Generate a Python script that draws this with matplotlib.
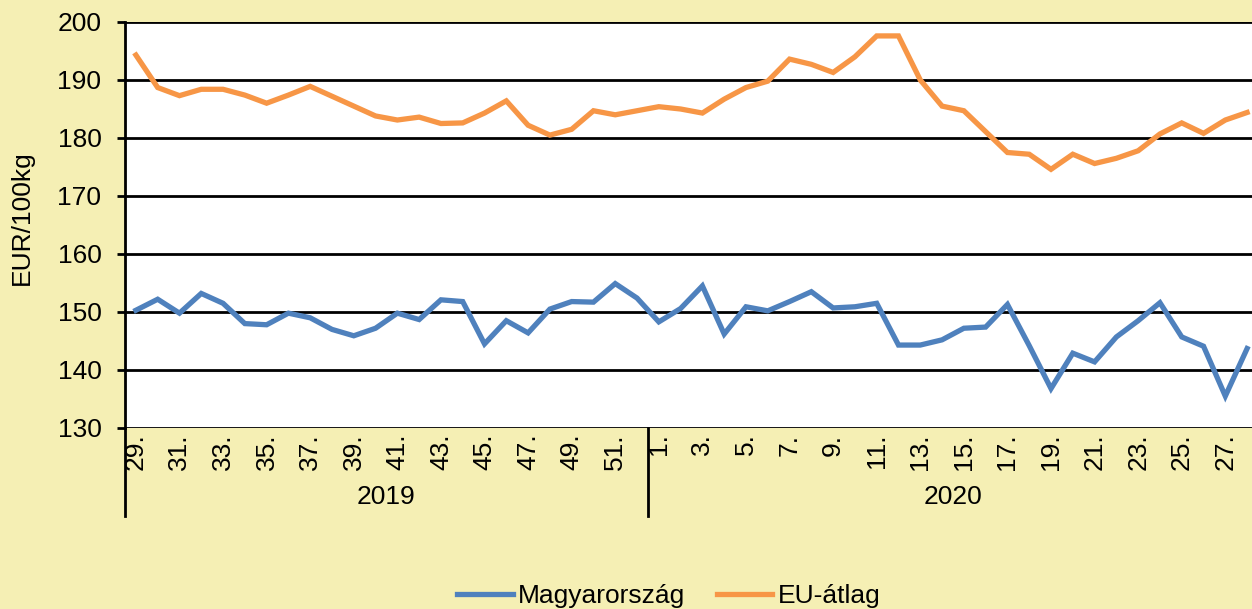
import matplotlib
matplotlib.use("Agg")
import matplotlib.pyplot as plt
import matplotlib.transforms as mtransforms
from matplotlib.lines import Line2D

plt.rcParams['font.family'] = ['Liberation Sans', 'DejaVu Sans']

# weeks: 2019 w29-w52, 2020 w1-w28
weeks_2019 = list(range(29, 53))
weeks_2020 = list(range(1, 29))
week_labels = [f"{w}." for w in weeks_2019 + weeks_2020]
years = ["2019", "2020"]

hu = [150.3, 152.2, 149.8, 153.2, 151.5, 148.0, 147.8, 149.8, 149.0, 147.0,
      145.9, 147.2, 149.8, 148.7, 152.1, 151.8, 144.5, 148.5, 146.4, 150.5,
      151.8, 151.7, 154.9, 152.4,
      148.3, 150.6, 154.5, 146.2, 150.9, 150.2, 151.8, 153.5, 150.7, 150.9,
      151.5, 144.3, 144.3, 145.2, 147.2, 147.4, 151.3, 144.2, 136.8, 142.9,
      141.4, 145.7, 148.5, 151.6, 145.7, 144.1, 135.5, 143.7]
eu = [194.3, 188.7, 187.3, 188.4, 188.4, 187.4, 186.0, 187.4, 188.9, 187.2,
      185.5, 183.8, 183.1, 183.6, 182.5, 182.6, 184.3, 186.4, 182.2, 180.5,
      181.5, 184.7, 184.0, 184.7,
      185.4, 185.0, 184.3, 186.7, 188.7, 189.8, 193.6, 192.7, 191.3, 194.0,
      197.6, 197.6, 190.0, 185.5, 184.7, 181.1, 177.5, 177.2, 174.6, 177.2,
      175.6, 176.5, 177.8, 180.7, 182.6, 180.8, 183.1, 184.4]

bg = '#F5EFB4'
blue = '#4F81BD'
orange = '#F79646'
fs = 19

fig = plt.figure(figsize=(12.52, 6.09), dpi=100, facecolor=bg)
ax = fig.add_axes([125 / 1252, 1 - 428 / 609, (1258 - 125) / 1252, (428 - 22) / 609])
ax.set_facecolor('white')

x = list(range(len(week_labels)))
ax.plot(x, hu, color=blue, lw=3.8, solid_joinstyle='miter', label='Magyarország', zorder=3)
ax.plot(x, eu, color=orange, lw=3.8, solid_joinstyle='miter', label='EU-átlag', zorder=3)

ax.set_xlim(-0.5, len(x) - 0.5)
ax.set_ylim(130, 200)
ax.set_yticks(range(130, 201, 10))
ax.yaxis.grid(True, color='black', lw=2.0)
ax.set_axisbelow(True)

for s in ['top', 'right', 'bottom']:
    ax.spines[s].set_visible(False)
ax.spines['left'].set_linewidth(2.0)

ax.tick_params(axis='y', length=6, width=2.0, labelsize=fs, pad=11)
ticks = [i for i, lab in enumerate(week_labels) if int(lab[:-1]) % 2 == 1]
ax.set_xticks(ticks)
ax.set_xticklabels([week_labels[i] for i in ticks], rotation=90, fontsize=fs)
ax.tick_params(axis='x', length=0, pad=4)

fig.text(22 / 1252, 1 - 218 / 609, 'EUR/100kg', rotation=90, ha='center', va='center',
         fontsize=fs)

# year group separators and labels
trans = mtransforms.blended_transform_factory(ax.transData, ax.transAxes)
for xv in [-0.5, len(weeks_2019) - 0.5]:
    ax.add_line(Line2D([xv, xv], [0, -88 / 406], transform=trans, color='black',
                       lw=2.0, clip_on=False))
ax.text((len(weeks_2019) - 1) / 2, -69 / 406, years[0], transform=trans,
        ha='center', va='center', fontsize=fs)
ax.text(len(weeks_2019) + (len(weeks_2020) - 1) / 2, -69 / 406, years[1], transform=trans,
        ha='center', va='center', fontsize=fs)

fig.legend(loc='center', bbox_to_anchor=(669 / 1252, 1 - 596 / 609), ncol=2,
           frameon=False, fontsize=fs, handlelength=2.1, handletextpad=0.2,
           columnspacing=1.2, borderpad=0)

fig.savefig('out.png', dpi=100, facecolor=bg)
